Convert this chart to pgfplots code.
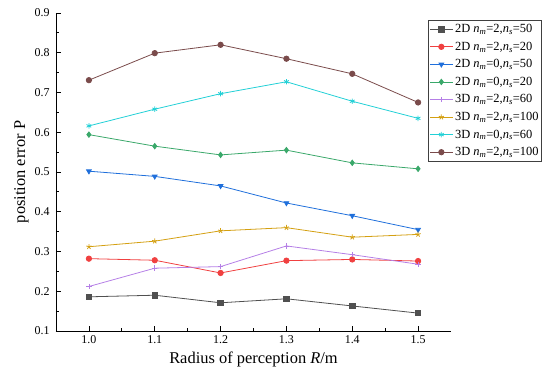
\documentclass[border=0pt]{standalone}
\usepackage{pgfplots}
\pgfplotsset{compat=1.18}
\usepackage{fontspec}
\setmainfont{Liberation Serif}
\definecolor{cblack}{HTML}{505050}
\definecolor{cred}{HTML}{F04040}
\definecolor{cblue}{HTML}{1F6FDB}
\definecolor{cgreen}{HTML}{3AA86A}
\definecolor{cpurple}{HTML}{B57FE6}
\definecolor{cgold}{HTML}{D4A012}
\definecolor{ccyan}{HTML}{22D0D6}
\definecolor{cbrown}{HTML}{7A4B4B}
\newcommand{\lab}[3]{#1 \textit{n}\textsubscript{\textit{m}}=#2,\textit{n}\textsubscript{\textit{s}}=#3}
\begin{document}
\begin{tikzpicture}
\useasboundingbox (-56bp,-52bp) rectangle (486bp,331bp);
\begin{axis}[
  at={(0,0)}, anchor=south west,
  scale only axis, width=395bp, height=318bp,
  xmin=0.95, xmax=1.55, ymin=0.1, ymax=0.9,
  axis x line*=bottom, axis y line*=left,
  xtick={1.0,1.1,1.2,1.3,1.4,1.5},
  ytick={0.1,0.2,...,0.9},
  minor x tick num=1, minor y tick num=1,
  tick align=inside,
  major tick length=5bp, minor tick length=3bp,
  tick style={black, line width=0.8pt},
  axis line style={black, line width=0.9pt, -},
  ticklabel style={font=\fontsize{12}{14}\selectfont, /pgf/number format/fixed, /pgf/number format/fixed zerofill, /pgf/number format/precision=1, /pgf/number format/assume math mode=true},
  yticklabel style={xshift=-3bp},
  xticklabel style={yshift=-1bp},
  xlabel={Radius of perception \textit{R}/m},
  ylabel={position error P},
  label style={font=\fontsize{16.5}{19}\selectfont},
  xlabel style={yshift=-1bp},
  ylabel style={yshift=-1bp},
  legend style={at={(486bp,311bp)}, anchor=north east, draw=black!75, line width=0.8pt,
    font=\fontsize{12.5}{14}\selectfont, inner xsep=1bp, inner ysep=2bp, row sep=3.8bp,
    cells={anchor=west}},
  legend image code/.code={
    \draw[mark repeat=2,mark phase=2] plot coordinates {(0cm,0cm) (0.4cm,0cm) (0.8cm,0cm)};
  },
  every axis plot/.append style={line width=0.8pt, mark size=2.7bp},
]
\addplot[cblack, mark=square*] coordinates {(1.0,0.186) (1.1,0.190) (1.2,0.171) (1.3,0.181) (1.4,0.163) (1.5,0.145)};
\addlegendentry{\lab{2D}{2}{50}}
\addplot[cred, mark=*] coordinates {(1.0,0.282) (1.1,0.278) (1.2,0.246) (1.3,0.277) (1.4,0.280) (1.5,0.276)};
\addlegendentry{\lab{2D}{2}{20}}
\addplot[cblue, mark=triangle*, mark options={rotate=180}] coordinates {(1.0,0.502) (1.1,0.489) (1.2,0.465) (1.3,0.422) (1.4,0.390) (1.5,0.355)};
\addlegendentry{\lab{2D}{0}{50}}
\addplot[cgreen, mark=diamond*] coordinates {(1.0,0.594) (1.1,0.565) (1.2,0.543) (1.3,0.555) (1.4,0.523) (1.5,0.508)};
\addlegendentry{\lab{2D}{0}{20}}
\addplot[cpurple, mark=+] coordinates {(1.0,0.212) (1.1,0.258) (1.2,0.262) (1.3,0.314) (1.4,0.292) (1.5,0.268)};
\addlegendentry{\lab{3D}{2}{60}}
\addplot[cgold, mark=star, mark options={fill=cgold}] coordinates {(1.0,0.312) (1.1,0.326) (1.2,0.352) (1.3,0.360) (1.4,0.336) (1.5,0.343)};
\addlegendentry{\lab{3D}{2}{100}}
\addplot[ccyan, mark=asterisk] coordinates {(1.0,0.616) (1.1,0.658) (1.2,0.697) (1.3,0.727) (1.4,0.678) (1.5,0.635)};
\addlegendentry{\lab{3D}{0}{60}}
\addplot[cbrown, mark=*] coordinates {(1.0,0.731) (1.1,0.799) (1.2,0.820) (1.3,0.785) (1.4,0.747) (1.5,0.675)};
\addlegendentry{\lab{3D}{2}{100}}
\end{axis}
\end{tikzpicture}
\end{document}
